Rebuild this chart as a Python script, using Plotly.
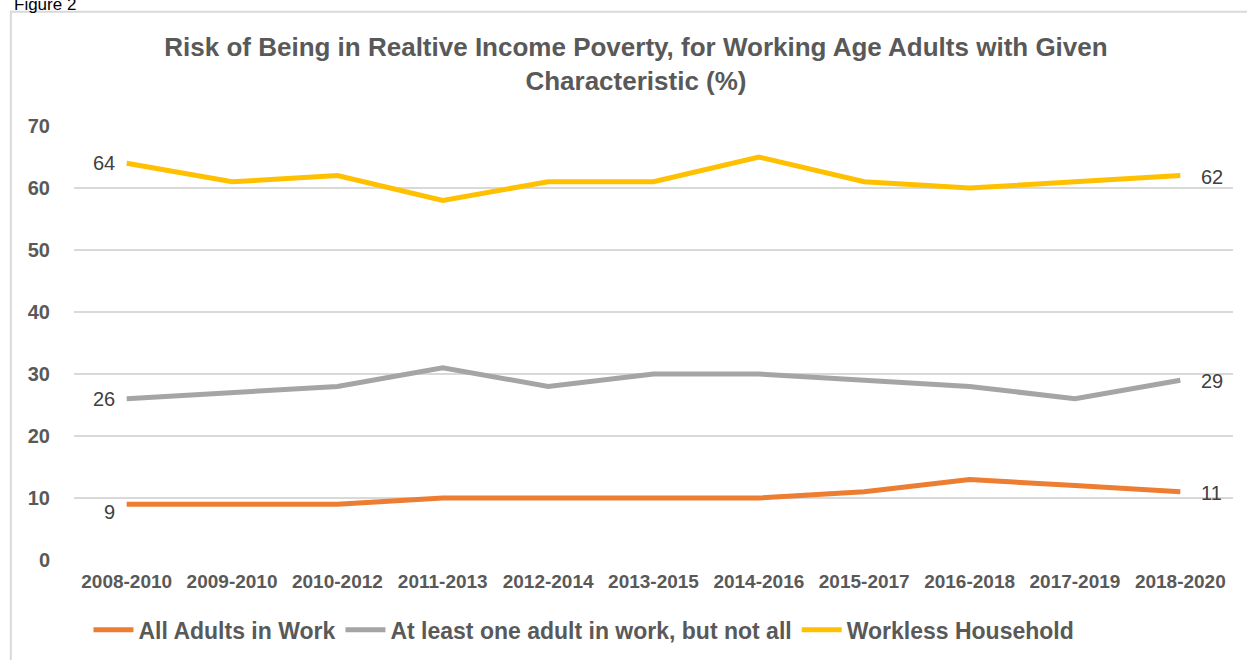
import plotly.graph_objects as go

periods = ["2008-2010", "2009-2010", "2010-2012", "2011-2013", "2012-2014", "2013-2015",
           "2014-2016", "2015-2017", "2016-2018", "2017-2019", "2018-2020"]
all_adults = [9, 9, 9, 10, 10, 10, 10, 11, 13, 12, 11]
at_least_one = [26, 27, 28, 31, 28, 30, 30, 29, 28, 26, 29]
workless = [64, 61, 62, 58, 61, 61, 65, 61, 60, 61, 62]

series = [
    ("All Adults in Work", all_adults, "#ED7D31"),
    ("At least one adult in work, but not all", at_least_one, "#A5A5A5"),
    ("Workless Household", workless, "#FFC000"),
]

FONT = "Liberation Sans, Arial, sans-serif"
fig = go.Figure()
for name, vals, col in series:
    fig.add_trace(go.Scatter(x=periods, y=vals, name=name, mode="lines",
                             line=dict(color=col, width=5)))

annotations = []
for name, vals, col in series:
    dy = -8 if vals is all_adults else 0
    annotations.append(dict(x=periods[0], y=vals[0], text=str(vals[0]), showarrow=False,
                            xanchor="right", xshift=-10, yshift=dy,
                            font=dict(size=20, color="#404040", family=FONT)))
    annotations.append(dict(x=periods[-1], y=vals[-1], text=str(vals[-1]), showarrow=False,
                            xanchor="left", xshift=19, yshift=-1,
                            font=dict(size=20, color="#404040", family=FONT)))

annotations.append(dict(xref="paper", yref="paper", x=-0.0535, y=1.254, text="Figure 2",
                        showarrow=False, xanchor="left", yanchor="bottom",
                        font=dict(size=17, color="#000000", family=FONT)))

fig.update_layout(
    width=1247, height=660,
    margin=dict(l=74, r=14, t=126, b=100, autoexpand=False),
    paper_bgcolor="white", plot_bgcolor="white",
    title=dict(text="Risk of Being in Realtive Income Poverty, for Working Age Adults with Given<br>Characteristic (%)",
               x=0.51, xanchor="center", y=0.915, yanchor="top",
               font=dict(size=26, color="#595959", family=FONT, weight="bold")),
    xaxis=dict(range=[-0.5, len(periods) - 0.5], showgrid=False, showline=False, zeroline=False,
               ticks="", automargin=False, ticklabelstandoff=8,
               tickfont=dict(size=19, color="#595959", family=FONT, weight="bold")),
    yaxis=dict(range=[0, 70], dtick=10, showgrid=True, gridcolor="#D9D9D9", gridwidth=1.8,
               zeroline=False, showline=False, ticks="", ticklabelstandoff=23, automargin=False,
               tickfont=dict(size=20, color="#595959", family=FONT, weight="bold")),
    legend=dict(orientation="h", x=0.44, xanchor="center", y=-0.161, yanchor="middle",
                font=dict(size=23, color="#595959", family=FONT, weight="bold"),
                itemwidth=40),
    annotations=annotations,
    showlegend=True,
)
fig.add_shape(type="rect", xref="paper", yref="paper", x0=-0.0545, x1=1.05, y0=-0.5, y1=1.263,
              line=dict(color="#D9D9D9", width=2), fillcolor="rgba(0,0,0,0)", layer="below")
fig.write_html("out.html", config={"displayModeBar": False},
               post_script="document.body.style.margin='0';document.body.style.padding='0';")
